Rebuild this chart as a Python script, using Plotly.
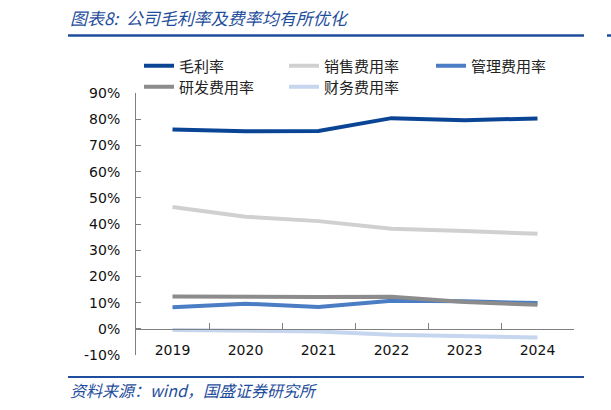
import plotly.graph_objects as go

years = ["2019", "2020", "2021", "2022", "2023", "2024"]
gross_margin = [76.1, 75.4, 75.5, 80.4, 79.6, 80.3]
selling_rate = [46.5, 42.8, 41.1, 38.2, 37.3, 36.3]
admin_rate = [8.2, 9.6, 8.3, 10.7, 10.5, 9.8]
rd_rate = [12.3, 12.1, 12.1, 12.2, 10.2, 9.2]
finance_rate = [-0.5, -0.6, -1.0, -2.3, -2.9, -3.3]
ytick_vals = [-10, 0, 10, 20, 30, 40, 50, 60, 70, 80, 90]
ytick_text = ["-10%", "0%", "10%", "20%", "30%", "40%", "50%", "60%", "70%", "80%", "90%"]

W, H = 611, 410
L, R, T, B = 136, 37, 93, 55
pw, ph = W - L - R, H - T - B

def px_x(px):
    return (px - L) / pw

def px_y(py):
    return (H - B - py) / ph

# name, values, colour, legend id, legend left px, legend centre y px
series = [
    ("毛利率", gross_margin, "#0A4595", "legend", 139, 66),
    ("销售费用率", selling_rate, "#D0D0D0", "legend2", 284, 66),
    ("管理费用率", admin_rate, "#4A7DC4", "legend3", 431, 66),
    ("研发费用率", rd_rate, "#8C8C8C", "legend4", 139, 87),
    ("财务费用率", finance_rate, "#C6D6EE", "legend5", 284, 87),
]

cjk = "Noto Sans CJK SC"
blue = "#1F4E9C"

fig = go.Figure()
legends = {}
for name, vals, color, lg, lx, ly in series:
    fig.add_trace(go.Scatter(
        x=years, y=vals, name=name, mode="lines",
        line=dict(color=color, width=4),
        legend=lg,
    ))
    legends[lg] = dict(
        x=px_x(lx), y=px_y(ly), xanchor="left", yanchor="middle",
        orientation="h",
        font=dict(family=cjk, size=15, color="#222222"),
        bgcolor="rgba(0,0,0,0)", itemwidth=30,
    )

fig.update_layout(
    width=W, height=H,
    margin=dict(l=L, r=R, t=T, b=B, pad=0, autoexpand=False),
    paper_bgcolor="white", plot_bgcolor="white",
    showlegend=True,
    xaxis=dict(
        type="category", range=[-0.5, 5.5],
        anchor="free", position=0.1,
        showline=True, linecolor="#808080", linewidth=1,
        ticks="inside", tickson="boundaries", ticklen=6, tickcolor="#808080",
        showgrid=False, zeroline=False,
        tickfont=dict(family="DejaVu Sans", size=14, color="#111111"),
        ticklabelstandoff=8,
    ),
    yaxis=dict(
        range=[-10, 90], tickmode="array", tickvals=ytick_vals, ticktext=ytick_text,
        showline=True, linecolor="#808080", linewidth=1,
        ticks="inside", ticklen=5, tickcolor="#808080",
        showgrid=False, zeroline=False,
        tickfont=dict(family="DejaVu Sans", size=14, color="#111111"),
        ticklabelstandoff=12,
    ),
    shapes=[
        dict(type="line", xref="paper", yref="paper",
             x0=px_x(68), x1=px_x(584), y0=px_y(35.5), y1=px_y(35.5),
             line=dict(color=blue, width=2.5)),
        dict(type="line", xref="paper", yref="paper",
             x0=px_x(607), x1=px_x(611), y0=px_y(35.5), y1=px_y(35.5),
             line=dict(color=blue, width=2.5)),
        dict(type="line", xref="paper", yref="paper",
             x0=px_x(68), x1=px_x(584), y0=px_y(377), y1=px_y(377),
             line=dict(color=blue, width=2)),
    ],
    annotations=[
        dict(text="<i>图表8:  公司毛利率及费率均有所优化</i>", xref="paper", yref="paper",
             x=px_x(68), y=px_y(18), xanchor="left", yanchor="middle",
             showarrow=False, font=dict(family=cjk, size=17, color=blue)),
        dict(text="<i>资料来源：wind，国盛证券研究所</i>", xref="paper", yref="paper",
             x=px_x(68), y=px_y(390), xanchor="left", yanchor="middle",
             showarrow=False, font=dict(family=cjk, size=16, color=blue)),
    ],
    **legends,
)

fig.write_html("out.html", config={"displayModeBar": False},
               post_script="document.body.style.margin='0';")
